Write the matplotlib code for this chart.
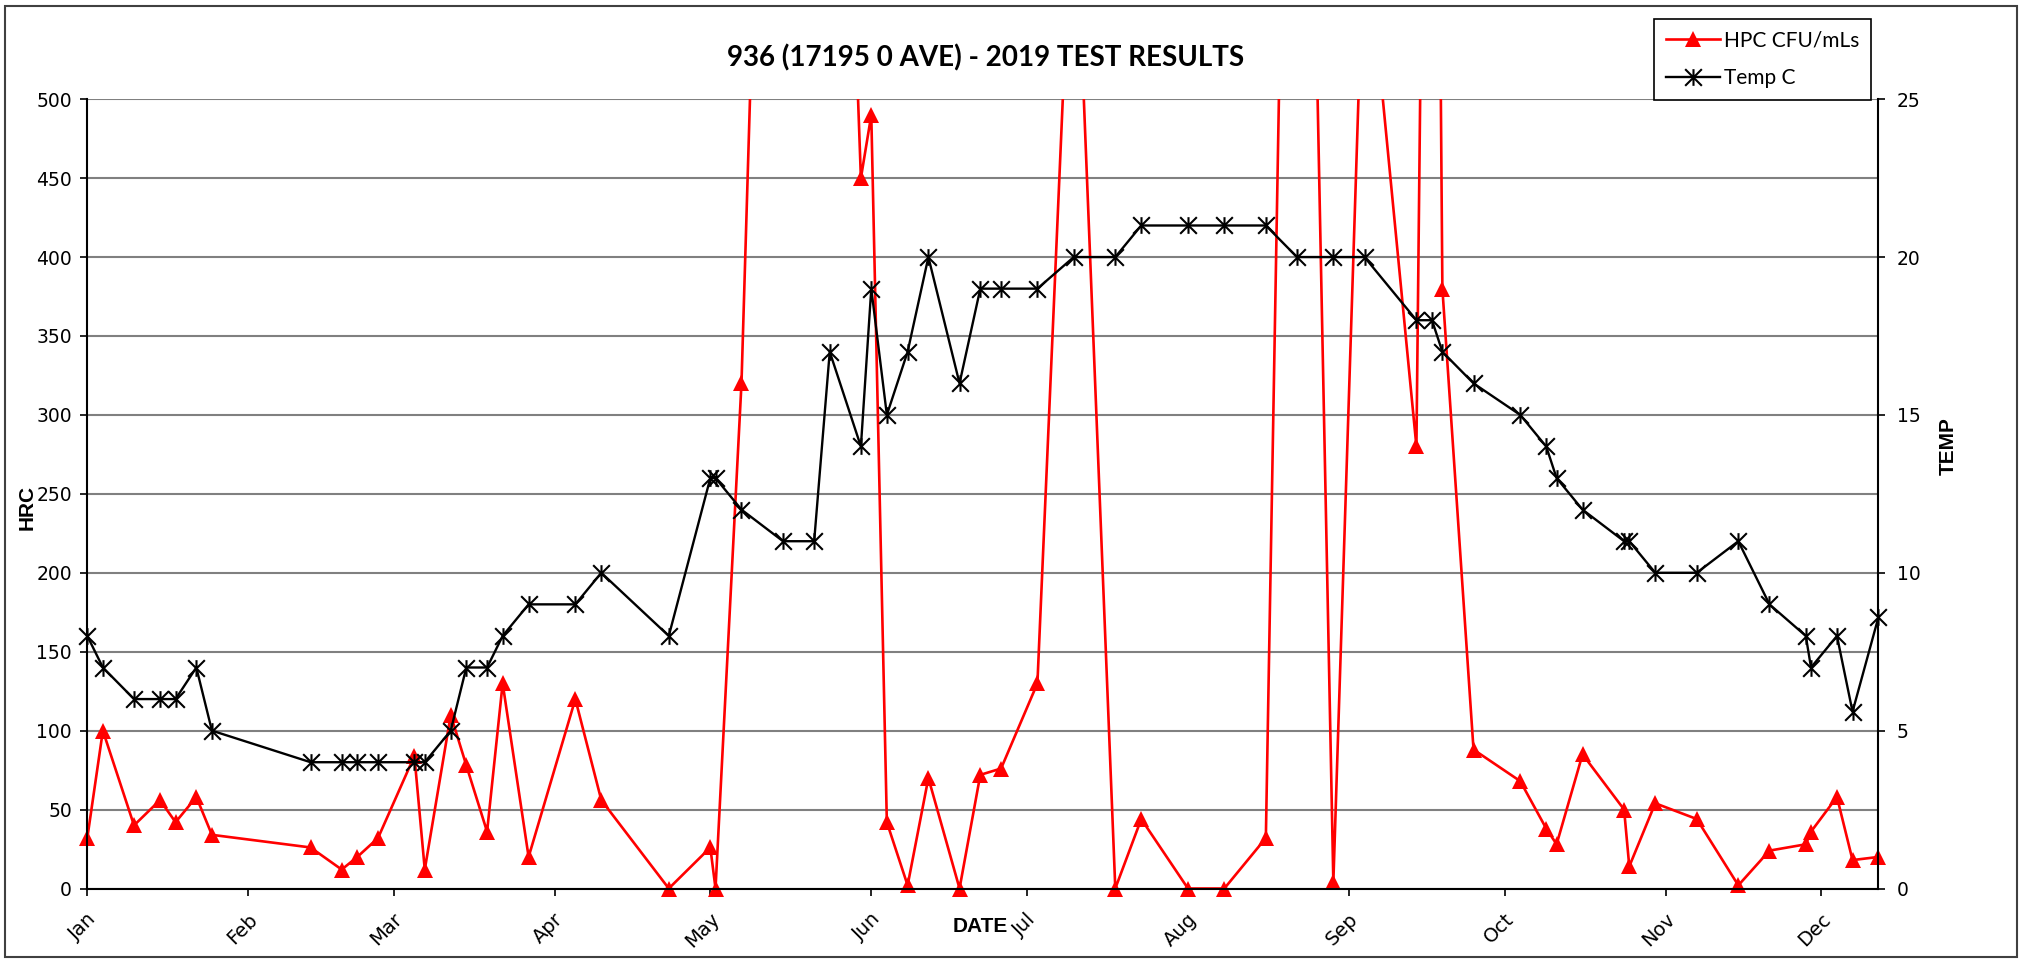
import matplotlib.pyplot as plt
from matplotlib.path import Path
from matplotlib.patches import Rectangle
from matplotlib.transforms import ScaledTranslation, Bbox, TransformedBbox
import pandas as pd

# sampling dates and results for 2019
dates = [
    "2019-01-01", "2019-01-04", "2019-01-10", "2019-01-15", "2019-01-18", "2019-01-22", "2019-01-25",
    "2019-02-13", "2019-02-19", "2019-02-22", "2019-02-26",
    "2019-03-05", "2019-03-07", "2019-03-12", "2019-03-15", "2019-03-19", "2019-03-22", "2019-03-27",
    "2019-04-05", "2019-04-10", "2019-04-23",
    "2019-05-01", "2019-05-02", "2019-05-07", "2019-05-15", "2019-05-21", "2019-05-24", "2019-05-30",
    "2019-06-01", "2019-06-04", "2019-06-08", "2019-06-12", "2019-06-18", "2019-06-22", "2019-06-26",
    "2019-07-03", "2019-07-10", "2019-07-18", "2019-07-23",
    "2019-08-01", "2019-08-08", "2019-08-16", "2019-08-22", "2019-08-29",
    "2019-09-04", "2019-09-14", "2019-09-17", "2019-09-19", "2019-09-25",
    "2019-10-04", "2019-10-09", "2019-10-11", "2019-10-16", "2019-10-24", "2019-10-25", "2019-10-30",
    "2019-11-07", "2019-11-15", "2019-11-21", "2019-11-28", "2019-11-29",
    "2019-12-04", "2019-12-07", "2019-12-12",
]
hpc = [
    32, 100, 40, 56, 42, 58, 34,
    26, 12, 20, 32,
    84, 12, 110, 78, 36, 130, 20,
    120, 56, 0,
    26, 0, 320, 1200, 1500, 1000, 450,
    490, 42, 2, 70, 0, 72, 76,
    130, 660, 0, 44,
    0, 0, 32, 1150, 4,
    620, 280, 1200, 380, 88,
    68, 38, 28, 85, 50, 14, 54,
    44, 2, 24, 28, 36,
    58, 18, 20,
]
temp = [
    8, 7, 6, 6, 6, 7, 5,
    4, 4, 4, 4,
    4, 4, 5, 7, 7, 8, 9,
    9, 10, 8,
    13, 13, 12, 11, 11, 17, 14,
    19, 15, 17, 20, 16, 19, 19,
    19, 20, 20, 21,
    21, 21, 21, 20, 20,
    20, 18, 18, 17, 16,
    15, 14, 13, 12, 11, 11, 10,
    10, 11, 9, 8, 7,
    8, 5.6, 8.6,
]
month_starts = pd.date_range("2019-01-01", periods=12, freq="MS")
month_labels = ["Jan", "Feb", "Mar", "Apr", "May", "Jun",
                "Jul", "Aug", "Sep", "Oct", "Nov", "Dec"]
hpc_ticks = list(range(0, 501, 50))
temp_ticks = list(range(0, 26, 5))

x = pd.to_datetime(dates)

# asterisk marker: vertical bar plus an X
star = Path([(0, -1), (0, 1), (-1, -1), (1, 1), (-1, 1), (1, -1)],
            [Path.MOVETO, Path.LINETO, Path.MOVETO, Path.LINETO, Path.MOVETO, Path.LINETO])

fig = plt.figure(figsize=(20.19, 9.59), dpi=100)
fig.patches.append(Rectangle((0.0025, 0.002), 0.9965, 0.992, transform=fig.transFigure,
                             fill=False, edgecolor="#404040", linewidth=1.5))

ax = fig.add_axes([0.04324, 0.07351, 0.88717, 0.82304])
ax2 = ax.twinx()

l1, = ax.plot(x, hpc, color="#ff0000", lw=1.9, marker="^", markersize=11.5,
              markeredgewidth=0, label="HPC CFU/mLs")
l2, = ax2.plot(x, temp, color="black", lw=1.7, marker=star, markersize=12,
               markeredgewidth=1.5, markerfacecolor="none", label="Temp C")

# let markers on the edges show in full, but still cut lines at the top
for line, a in [(l1, ax), (l2, ax2)]:
    line.set_clip_box(TransformedBbox(Bbox([[-0.01, -0.03], [1.01, 1.0]]), a.transAxes))

ax.set_xlim(x[0], x[-1])
ax.set_ylim(0, 500)
ax2.set_ylim(0, 25)
ax.set_yticks(hpc_ticks)
ax2.set_yticks(temp_ticks)
ax.set_xticks(month_starts)
ax.set_xticklabels(month_labels)

ax.yaxis.grid(True, color="#808080", lw=1.5)
ax.set_axisbelow(True)
for s in ["top", "right"]:
    ax.spines[s].set_visible(False)
for s in ["top", "left", "bottom"]:
    ax2.spines[s].set_visible(False)
for s in [ax.spines["left"], ax.spines["bottom"], ax2.spines["right"]]:
    s.set_linewidth(1.5)
    s.set_color("black")

tick_fam = ["DejaVu Sans"]
ax.tick_params(axis="y", direction="out", length=5, width=1.2, pad=6,
               labelsize=13.5, labelfontfamily=tick_fam)
ax2.tick_params(axis="y", direction="out", length=5, width=1.2, pad=8,
                labelsize=13.5, labelfontfamily=tick_fam)
ax.tick_params(axis="x", direction="out", length=5, width=1.2, pad=15,
               labelsize=14, labelfontfamily=tick_fam)
shift = ScaledTranslation(6 / 100, 0, fig.dpi_scale_trans)
for lab in ax.get_xticklabels():
    lab.set_rotation(45)
    lab.set_rotation_mode("anchor")
    lab.set_ha("right")
    lab.set_va("center")
    lab.set_transform(lab.get_transform() + shift)

label_font = dict(family=["Liberation Sans", "DejaVu Sans"], size=15, weight="bold")
fig.text(0.0134, 0.4713, "HRC", rotation=90, ha="center", va="center", **label_font)
fig.text(0.9648, 0.535, "TEMP", rotation=90, ha="center", va="center", **label_font)
fig.text(0.4854, 0.0344, "DATE", ha="center", va="center", **label_font)

fig.text(0.488, 0.9395, "936 (17195 0 AVE) - 2019 TEST RESULTS", ha="center", va="center",
         family=["Lato", "DejaVu Sans"], size=20, weight="bold")

leg = fig.legend([l1, l2], ["HPC CFU/mLs", "Temp C"], loc="upper right",
                 bbox_to_anchor=(1871 / 2019, 1 - 19 / 959), borderaxespad=0,
                 prop=dict(family=["Lato", "DejaVu Sans"], size=15),
                 frameon=True, fancybox=False, framealpha=1, edgecolor="black",
                 handlelength=2.6, handletextpad=0.2, borderpad=0.55, labelspacing=0.85)
leg.get_frame().set_linewidth(1.2)

fig.savefig("out.png", dpi=100)
